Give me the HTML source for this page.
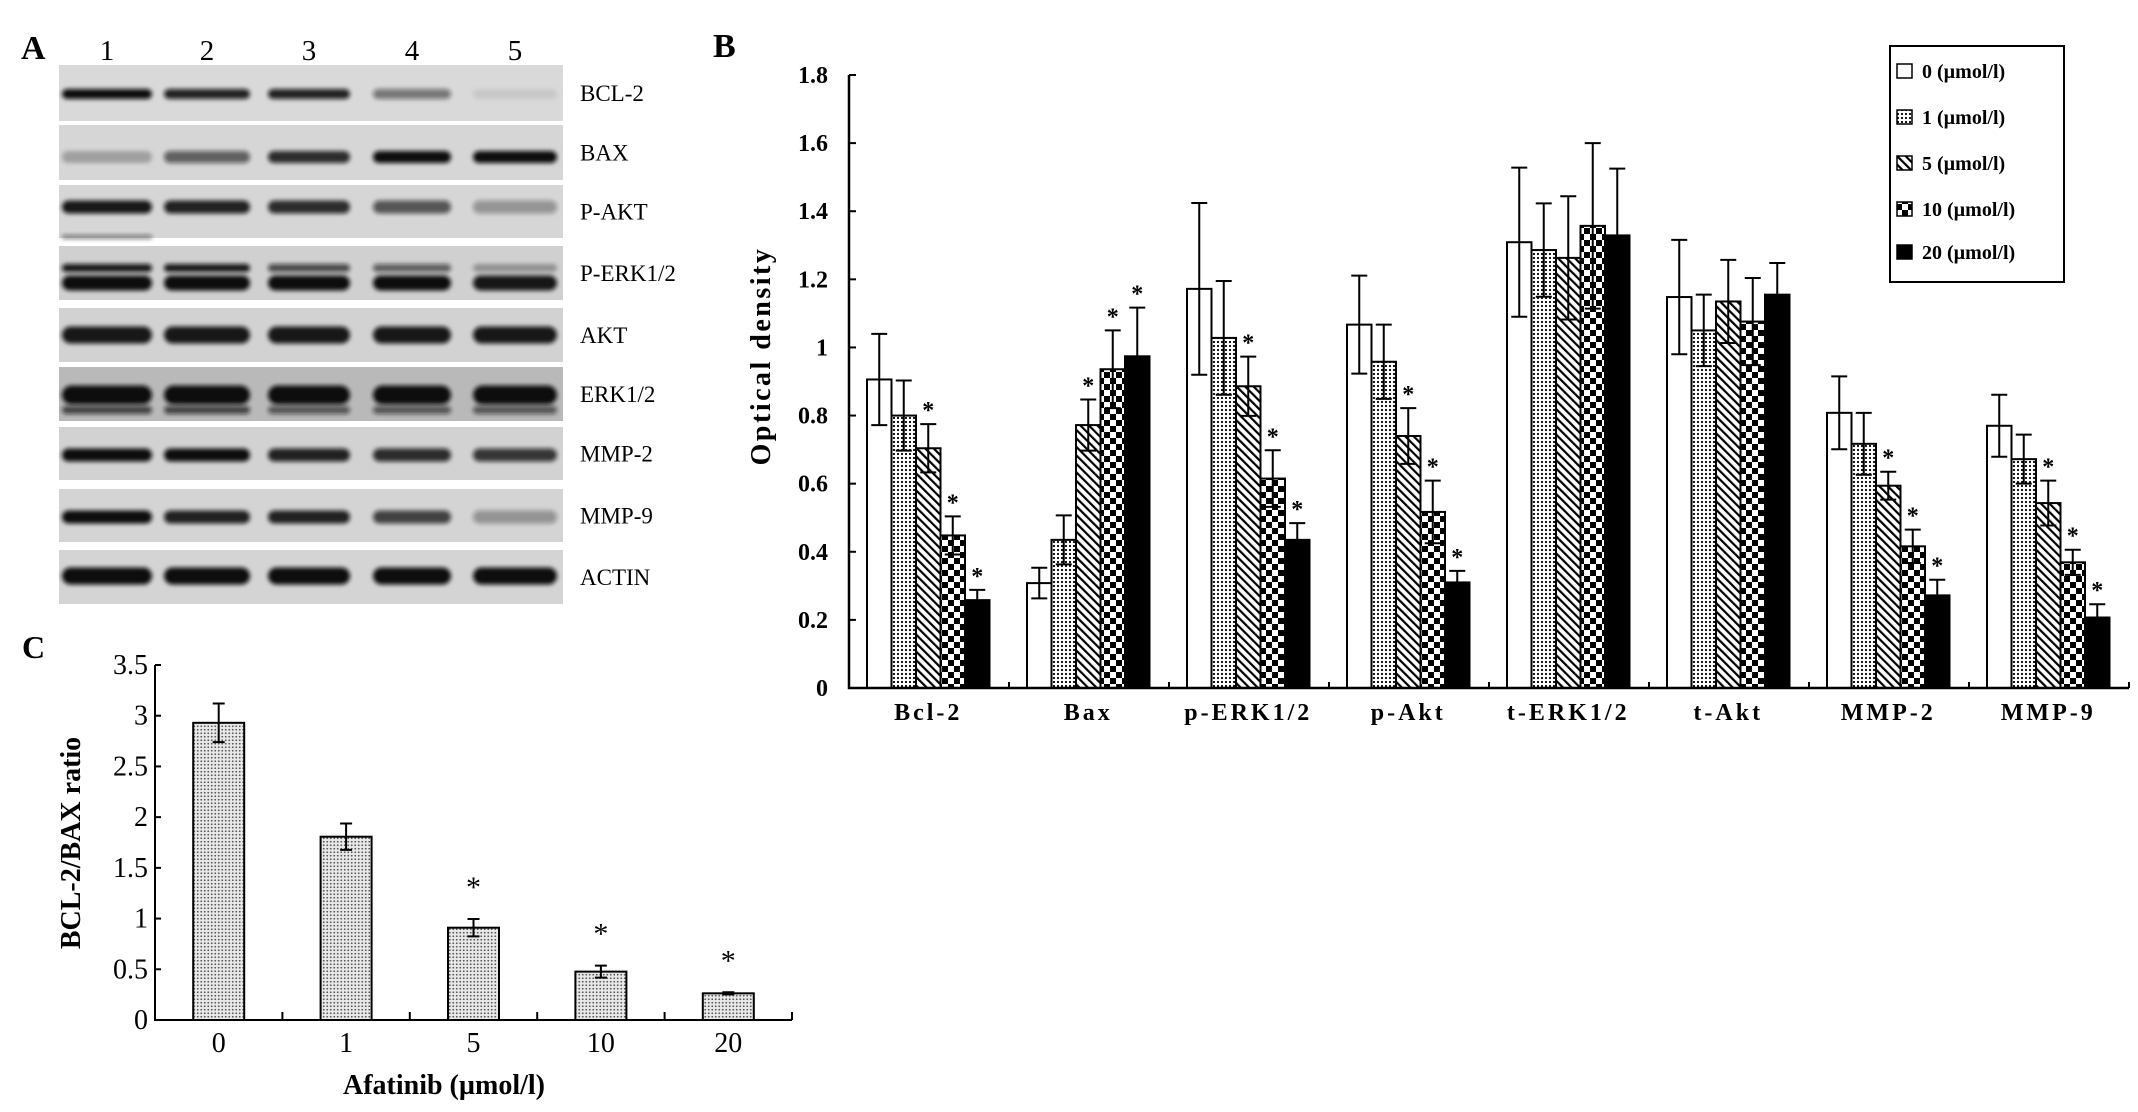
<!DOCTYPE html>
<html><head><meta charset="utf-8"><style>
html,body{margin:0;padding:0;background:#fff;}
svg{display:block;}
text{font-family:"Liberation Serif",serif;}
</style></head><body>
<svg id="fig" width="2138" height="1112" viewBox="0 0 2138 1112" xmlns="http://www.w3.org/2000/svg">
<defs>
<pattern id="pDots" width="4" height="4" patternUnits="userSpaceOnUse"><rect width="4" height="4" fill="#fff"/><circle cx="2" cy="2" r="1.1" fill="#000"/></pattern>
<pattern id="pDotsC" width="3.5" height="3.5" patternUnits="userSpaceOnUse"><rect width="3.5" height="3.5" fill="#e8e8e8"/><circle cx="1.75" cy="1.75" r="0.9" fill="#555"/></pattern>
<pattern id="pHatch" width="6" height="6" patternUnits="userSpaceOnUse" patternTransform="rotate(-45)"><rect width="6" height="6" fill="#fff"/><rect x="0" y="0" width="2.2" height="6" fill="#000"/></pattern>
<pattern id="pCheck" width="12" height="12" patternUnits="userSpaceOnUse"><rect width="12" height="12" fill="#fff"/><rect width="6" height="6" fill="#000"/><rect x="6" y="6" width="6" height="6" fill="#000"/></pattern>
<filter id="blur" x="-20%" y="-80%" width="140%" height="260%"><feGaussianBlur stdDeviation="2.2"/></filter>
</defs>
<g id="panelA"></g>
<g id="panelB"></g>
<g id="panelC"></g>
</svg>
<script>
// ---------- Chart B data ----------
const categoriesB = ["Bcl-2","Bax","p-ERK1/2","p-Akt","t-ERK1/2","t-Akt","MMP-2","MMP-9"];
const seriesNamesB = ["0 (\u00b5mol/l)","1 (\u00b5mol/l)","5 (\u00b5mol/l)","10 (\u00b5mol/l)","20 (\u00b5mol/l)"];
const s0 = [0.906,0.308,1.172,1.067,1.309,1.148,0.808,0.770];
const s1 = [0.800,0.435,1.028,0.958,1.286,1.050,0.717,0.672];
const s2 = [0.704,0.772,0.886,0.740,1.263,1.135,0.594,0.543];
const s3 = [0.448,0.936,0.615,0.517,1.357,1.076,0.416,0.369];
const s4 = [0.258,0.974,0.435,0.310,1.329,1.155,0.272,0.207];
const e0 = [0.134,0.045,0.252,0.144,0.219,0.168,0.107,0.091];
const e1 = [0.103,0.072,0.167,0.109,0.137,0.105,0.091,0.072];
const e2 = [0.071,0.075,0.087,0.082,0.181,0.122,0.041,0.066];
const e3 = [0.056,0.114,0.083,0.092,0.243,0.128,0.049,0.037];
const e4 = [0.030,0.143,0.049,0.034,0.196,0.093,0.046,0.039];
const sig2 = [1,1,1,1,0,0,1,1];
const sig3 = [1,1,1,1,0,0,1,1];
const sig4 = [1,1,1,1,0,0,1,1];
const yTicksB = [0,0.2,0.4,0.6,0.8,1.0,1.2,1.4,1.6,1.8];
const yTickLabelsB = ["0","0.2","0.4","0.6","0.8","1","1.2","1.4","1.6","1.8"];
// ---------- Chart C data ----------
const categoriesC = ["0","1","5","10","20"];
const valuesC = [2.93,1.807,0.91,0.477,0.263];
const errC = [0.19,0.13,0.086,0.059,0.01];
const sigC = [0,0,1,1,1];
const yTicksC = [0,0.5,1,1.5,2,2.5,3,3.5];
const yTickLabelsC = ["0","0.5","1","1.5","2","2.5","3","3.5"];
// ---------- Blot data ----------
const blotLabels = ["BCL-2","BAX","P-AKT","P-ERK1/2","AKT","ERK1/2","MMP-2","MMP-9","ACTIN"];
const laneLabels = ["1","2","3","4","5"];

const NS = "http://www.w3.org/2000/svg";
function mk(tag, attrs, parent){const e=document.createElementNS(NS,tag);for(const k in attrs)e.setAttribute(k,attrs[k]);parent.appendChild(e);return e;}

// ================= Panel B =================
const gB = document.getElementById('panelB');
const bX0=849, bX1=2129, bY0=688, bYtop=75, bYmax=1.8;
function yB(v){return bY0-(v/bYmax)*(bY0-bYtop);}
const groupW=160, barW=24.5, groupPad=18;
function xB(ci,si){return bX0+groupPad+ci*groupW+si*barW;}
const fills=["#fff","url(#pDots)","url(#pHatch)","url(#pCheck)","#000"];
const seriesB=[s0,s1,s2,s3,s4], errsB=[e0,e1,e2,e3,e4], sigsB=[null,null,sig2,sig3,sig4];

let t=mk('text',{x:713,y:57,'font-size':34,'font-weight':'bold'},gB);t.textContent='B';



for(let si=0;si<5;si++){
  const sg=mk('g',{},gB);
  
  
  for(let ci=0;ci<categoriesB.length;ci++){
    const v=seriesB[si][ci], e=errsB[si][ci], x=xB(ci,si);
    const r=mk('rect',{x:x,y:yB(v),width:barW,height:bY0-yB(v),fill:fills[si],stroke:'#000','stroke-width':2},sg);
    
    
    const cx=x+barW/2;
    const eb=mk('path',{d:`M${cx},${yB(v+e)}V${yB(v-e)}M${cx-8},${yB(v+e)}H${cx+8}M${cx-8},${yB(v-e)}H${cx+8}`,stroke:'#000','stroke-width':2,fill:'none'},sg);
    
    
    if(sigsB[si] && sigsB[si][ci]){
      const st=mk('text',{x:cx,y:yB(v+e)-6,'font-size':24,'font-weight':'bold','text-anchor':'middle'},sg);st.textContent='*';
      
      
    }
  }
}
// axes
let ax=mk('path',{d:`M${bX0},${bYtop}V${bY0}H${bX1}`,stroke:'#000','stroke-width':2.5,fill:'none'},gB);


yTicksB.forEach((v,i)=>{
  mk('line',{x1:bX0,x2:bX0+7,y1:yB(v),y2:yB(v),stroke:'#000','stroke-width':2},gB);
  const tl=mk('text',{x:828,y:yB(v)+8,'font-size':24,'font-weight':'bold','text-anchor':'end'},gB);tl.textContent=yTickLabelsB[i];
  
  
});
for(let k=1;k<=categoriesB.length;k++){mk('line',{x1:bX0+k*groupW,x2:bX0+k*groupW,y1:bY0,y2:bY0-6,stroke:'#000','stroke-width':2},gB);}
categoriesB.forEach((c,ci)=>{
  const tl=mk('text',{x:bX0+groupPad+ci*groupW+2.5*barW,y:720,'font-size':24,'font-weight':'bold','text-anchor':'middle','letter-spacing':3},gB);tl.textContent=c;
  
  
});
t=mk('text',{x:0,y:0,'font-size':28,'font-weight':'bold','text-anchor':'middle','letter-spacing':2.5,transform:'translate(770,356) rotate(-90)'},gB);t.textContent='Optical density';


// legend
const lg=mk('g',{},gB);


mk('rect',{x:1890,y:46,width:174,height:236,fill:'#fff',stroke:'#000','stroke-width':2},lg);
const legY=[71,117,163,209,252];
seriesNamesB.forEach((n,i)=>{
  const le=mk('g',{},lg);
  
  
  mk('rect',{x:1897,y:legY[i]-7,width:15,height:14,fill:fills[i],stroke:'#000','stroke-width':1.5},le);
  const lt=mk('text',{x:1922,y:legY[i]+7,'font-size':20,'font-weight':'bold'},le);lt.textContent=n;
});

// ================= Panel C =================
const gC=document.getElementById('panelC');
const cX0=155,cX1=792,cY0=1020,cYtop=665,cYmax=3.5;
function yC(v){return cY0-(v/cYmax)*(cY0-cYtop);}
const slotC=(cX1-cX0)/categoriesC.length, barWC=51;
function xC(i){return cX0+slotC*(i+0.5);}
t=mk('text',{x:22,y:658,'font-size':32,'font-weight':'bold'},gC);t.textContent='C';


valuesC.forEach((v,i)=>{
  const cx=xC(i);
  const r=mk('rect',{x:cx-barWC/2,y:yC(v),width:barWC,height:cY0-yC(v),fill:'url(#pDotsC)',stroke:'#000','stroke-width':2},gC);
  
  
  const e=errC[i];
  const eb=mk('path',{d:`M${cx},${yC(v+e)}V${yC(v-e)}M${cx-6},${yC(v+e)}H${cx+6}M${cx-6},${yC(v-e)}H${cx+6}`,stroke:'#000','stroke-width':2,fill:'none'},gC);
  
  
  if(sigC[i]){
    const st=mk('text',{x:cx,y:yC(v+e)-22,'font-size':30,'text-anchor':'middle'},gC);st.textContent='*';
    
    
  }
  const tl=mk('text',{x:cx,y:1052,'font-size':28,'text-anchor':'middle'},gC);tl.textContent=categoriesC[i];
  
  
});
ax=mk('path',{d:`M${cX0},${cYtop}V${cY0}H${cX1}`,stroke:'#000','stroke-width':2,fill:'none'},gC);


yTicksC.forEach((v,i)=>{
  mk('line',{x1:cX0,x2:cX0+6,y1:yC(v),y2:yC(v),stroke:'#000','stroke-width':2},gC);
  const tl=mk('text',{x:148,y:yC(v)+9,'font-size':28,'text-anchor':'end'},gC);tl.textContent=yTickLabelsC[i];
  
  
});
for(let k=1;k<=categoriesC.length;k++){mk('line',{x1:cX0+k*slotC,x2:cX0+k*slotC,y1:cY0,y2:cY0-8,stroke:'#000','stroke-width':2},gC);}
t=mk('text',{x:0,y:0,'font-size':28,'font-weight':'bold','text-anchor':'middle',transform:'translate(80,843) rotate(-90)'},gC);t.textContent='BCL-2/BAX ratio';


t=mk('text',{x:444,y:1094,'font-size':28,'font-weight':'bold','text-anchor':'middle'},gC);t.textContent='Afatinib (\u00b5mol/l)';



// ================= Panel A =================
const gA=document.getElementById('panelA');
t=mk('text',{x:21,y:59,'font-size':34,'font-weight':'bold'},gA);t.textContent='A';


const laneX=[107,207,309,412,515], laneW=[90,86,82,78,84];
laneLabels.forEach((l,i)=>{
  const tl=mk('text',{x:laneX[i],y:60,'font-size':29,'text-anchor':'middle'},gA);tl.textContent=l;
  
  
});
const strips=[[65,121],[125,180],[185,238],[246,300],[308,362],[367,421],[427,480],[489,542],[550,604]];
const stripBg=['#d9d9d9','#d6d6d6','#d6d6d6','#d0d0d0','#d2d2d2','#b9b9b9','#d2d2d2','#d4d4d4','#d4d4d4'];
const bands=[
 [[94,10,[1,.9,.9,.5,.08]]],
 [[157,12,[.25,.6,.85,1,1]]],
 [[207,13,[.95,.9,.85,.65,.35]],[237,4,[.5,0,0,0,0]]],
 [[268,8,[.95,.95,.7,.6,.3]],[283,15,[1,1,1,1,.95]]],
 [[335,17,[.95,.95,.95,.95,.95]]],
 [[395,19,[1,1,1,1,1]],[410,8,[.7,.7,.6,.6,.6]]],
 [[455,13,[1,1,.9,.85,.8]]],
 [[517,13,[1,.9,.9,.75,.35]]],
 [[576,17,[1,1,1,1,1]]]
];
strips.forEach((s,i)=>{
  const sg=mk('g',{},gA);
  
  
  mk('rect',{x:59,y:s[0],width:504,height:s[1]-s[0],fill:stripBg[i]},sg);
  bands[i].forEach(b=>{
    b[2].forEach((a,li)=>{
      if(a<=0)return;
      mk('rect',{x:laneX[li]-laneW[li]/2,y:b[0]-b[1]/2,width:laneW[li],height:b[1],rx:b[1]/2,fill:'#111','fill-opacity':a,filter:'url(#blur)'},sg);
    });
  });
  const tl=mk('text',{x:580,y:(s[0]+s[1])/2+8,'font-size':23,'font-family':'"Liberation Mono",monospace'},sg);tl.textContent=blotLabels[i];
  
  
});
</script>
</body></html>
